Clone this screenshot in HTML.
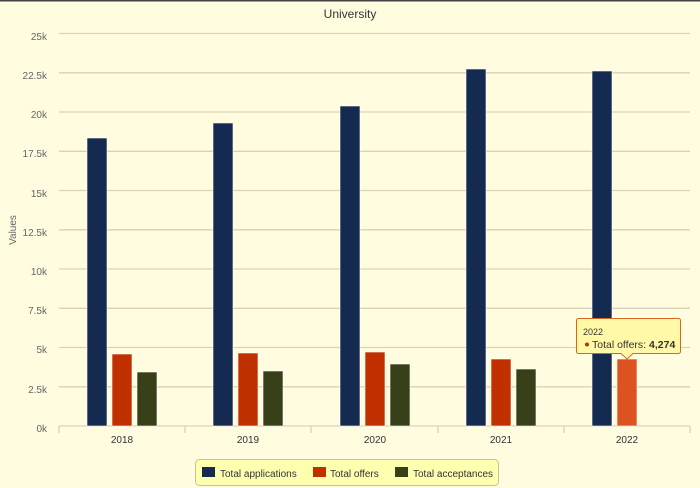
<!DOCTYPE html>
<html><head><meta charset="utf-8"><style>
html,body{margin:0;padding:0;background:#fffcdf;}
svg{display:block;font-family:"Liberation Sans",Arial,sans-serif;}
</style></head><body>
<svg width="700" height="488" viewBox="0 0 700 488" xmlns="http://www.w3.org/2000/svg">
<rect width="700" height="488" fill="#fffcdf"/>
<rect width="700" height="1.5" fill="#444"/>
<text x="350" y="18" text-anchor="middle" font-size="12" fill="#333">University</text>
<g stroke="#d9d2b8" stroke-width="1.3">
<line x1="59" x2="690" y1="33.5" y2="33.5"/>
<line x1="59" x2="690" y1="72.8" y2="72.8"/>
<line x1="59" x2="690" y1="112" y2="112"/>
<line x1="59" x2="690" y1="151.3" y2="151.3"/>
<line x1="59" x2="690" y1="190.5" y2="190.5"/>
<line x1="59" x2="690" y1="229.8" y2="229.8"/>
<line x1="59" x2="690" y1="269" y2="269"/>
<line x1="59" x2="690" y1="308.3" y2="308.3"/>
<line x1="59" x2="690" y1="347.5" y2="347.5"/>
<line x1="59" x2="690" y1="386.8" y2="386.8"/>
<line x1="59" x2="690" y1="426" y2="426"/>
<line x1="59" x2="59" y1="426" y2="433"/>
<line x1="185" x2="185" y1="426" y2="433"/>
<line x1="311" x2="311" y1="426" y2="433"/>
<line x1="438" x2="438" y1="426" y2="433"/>
<line x1="564" x2="564" y1="426" y2="433"/>
<line x1="690" x2="690" y1="426" y2="433"/>
</g>
<g font-size="10" fill="#666" text-anchor="end">
<text x="47" y="40">25k</text><text x="47" y="79">22.5k</text><text x="47" y="118">20k</text>
<text x="47" y="157">17.5k</text><text x="47" y="197">15k</text><text x="47" y="236">12.5k</text>
<text x="47" y="275">10k</text><text x="47" y="314">7.5k</text><text x="47" y="353">5k</text>
<text x="47" y="393">2.5k</text><text x="47" y="432">0k</text>
</g>
<text transform="translate(16,230) rotate(-90)" text-anchor="middle" font-size="10" fill="#666">Values</text>
<g font-size="10" fill="#333" text-anchor="middle">
<text x="122" y="443">2018</text><text x="248" y="443">2019</text><text x="375" y="443">2020</text>
<text x="501" y="443">2021</text><text x="627" y="443">2022</text>
</g>
<g stroke="#fff" stroke-width="0.6">
<rect x="87" y="138" width="20" height="288" fill="#142a50"/>
<rect x="112" y="354" width="20" height="72" fill="#c13100"/>
<rect x="137" y="372" width="20" height="54" fill="#38401a"/>
<rect x="213" y="123" width="20" height="303" fill="#142a50"/>
<rect x="238" y="353" width="20" height="73" fill="#c13100"/>
<rect x="263" y="371" width="20" height="55" fill="#38401a"/>
<rect x="340" y="106" width="20" height="320" fill="#142a50"/>
<rect x="365" y="352" width="20" height="74" fill="#c13100"/>
<rect x="390" y="364" width="20" height="62" fill="#38401a"/>
<rect x="466" y="69" width="20" height="357" fill="#142a50"/>
<rect x="491" y="359" width="20" height="67" fill="#c13100"/>
<rect x="516" y="369" width="20" height="57" fill="#38401a"/>
<rect x="592" y="71" width="20" height="355" fill="#142a50"/>
<rect x="617" y="359" width="20" height="67" fill="#dc5220"/>
</g>
<path d="M578.5 318.5 H678.5 a2 2 0 0 1 2 2 V351.5 a2 2 0 0 1-2 2 H633 L627 359 L621 353.5 H578.5 a2 2 0 0 1-2-2 V320.5 a2 2 0 0 1 2-2Z" fill="#fff9a8" stroke="#d9661f" stroke-width="1"/>
<text x="583" y="335" font-size="9" fill="#333">2022</text>
<circle cx="587" cy="344.5" r="2" fill="#c13100"/>
<text x="592" y="348" font-size="10.5" fill="#333">Total offers: <tspan font-weight="bold">4,274</tspan></text>
<rect x="195.5" y="459.5" width="303" height="26" rx="4" fill="#ffffb0" stroke="#c9c48e"/>
<rect x="202" y="467" width="13" height="10" fill="#142a50"/>
<text x="220" y="477" font-size="10" fill="#333">Total applications</text>
<rect x="313" y="467" width="13" height="10" fill="#c13100"/>
<text x="330" y="477" font-size="10" fill="#333">Total offers</text>
<rect x="395" y="467" width="13" height="10" fill="#38401a"/>
<text x="413" y="477" font-size="10" fill="#333">Total acceptances</text>
</svg>
</body></html>
